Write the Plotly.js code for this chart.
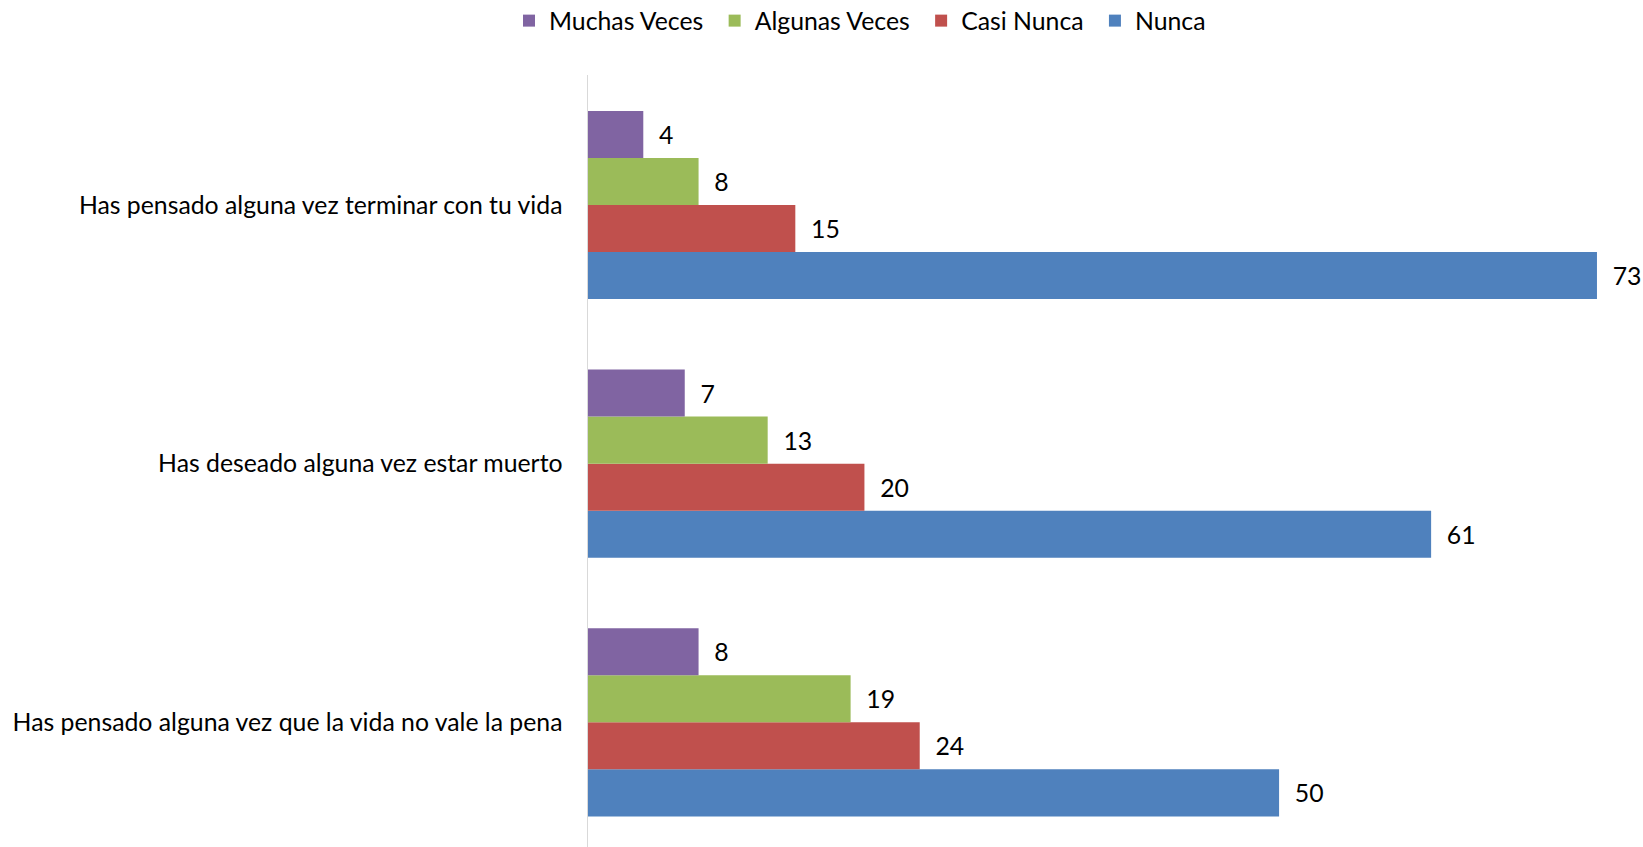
<!DOCTYPE html>
<html>
<head>
<meta charset="utf-8">
<script src="https://cdn.plot.ly/plotly-3.0.1.min.js"></script>
<style>html,body{margin:0;padding:0;background:#fff;}#chart{width:1643px;height:847px;}</style>
</head>
<body>
<div id="chart"></div>
<script>
// Categories, bottom to top as plotted
const categories = [
  "Has pensado alguna vez que la vida no vale la pena",
  "Has deseado alguna vez estar muerto",
  "Has pensado alguna vez terminar con tu vida"
];
const seriesNames = ["Nunca", "Casi Nunca", "Algunas Veces", "Muchas Veces"];
const nunca = [50, 61, 73];
const casiNunca = [24, 20, 15];
const algunasVeces = [19, 13, 8];
const muchasVeces = [8, 7, 4];
const seriesColors = ["#4F81BD", "#C0504D", "#9BBB59", "#8064A2"];

const FONT = "Lato, 'Open Sans', sans-serif";
const FS = 24.8;
const values = [nunca, casiNunca, algunasVeces, muchasVeces];

const traces = values.map((v, i) => ({
  type: "bar",
  orientation: "h",
  name: seriesNames[i] + "\u00a0",
  y: categories,
  x: v,
  marker: {color: seriesColors[i]},
  text: v.map(n => "\u00a0\u00a0" + n),
  textposition: "outside",
  textfont: {family: FONT, size: FS, color: "#000"},
  cliponaxis: false,
  hoverinfo: "none"
}));

const layout = {
  width: 1643,
  height: 847,
  margin: {l: 588, r: 0, t: 75, b: 0, pad: 0},
  paper_bgcolor: "#fff",
  plot_bgcolor: "#fff",
  barmode: "group",
  bargap: 0.2723,
  bargroupgap: 0,
  font: {family: FONT, size: FS, color: "#000"},
  showlegend: true,
  legend: {
    orientation: "h",
    traceorder: "reversed",
    xref: "container", yref: "container",
    x: 863 / 1643, xanchor: "center",
    y: 1 - 21 / 847, yanchor: "middle",
    font: {family: FONT, size: FS, color: "#000"},
    bgcolor: "rgba(0,0,0,0)"
  },
  xaxis: {
    range: [0, 76.33],
    showgrid: false,
    zeroline: false,
    showline: false,
    showticklabels: false,
    ticks: ""
  },
  yaxis: {
    type: "category",
    range: [-0.4821, 2.5026],
    showgrid: false,
    zeroline: false,
    showline: true,
    linecolor: "#D9D9D9",
    linewidth: 1.5,
    ticks: "outside",
    ticklen: 19,
    tickcolor: "rgba(0,0,0,0)",
    tickfont: {family: FONT, size: FS, color: "#000"}
  }
};

Plotly.newPlot("chart", traces, layout, {displayModeBar: false, staticPlot: true});
</script>
</body>
</html>
